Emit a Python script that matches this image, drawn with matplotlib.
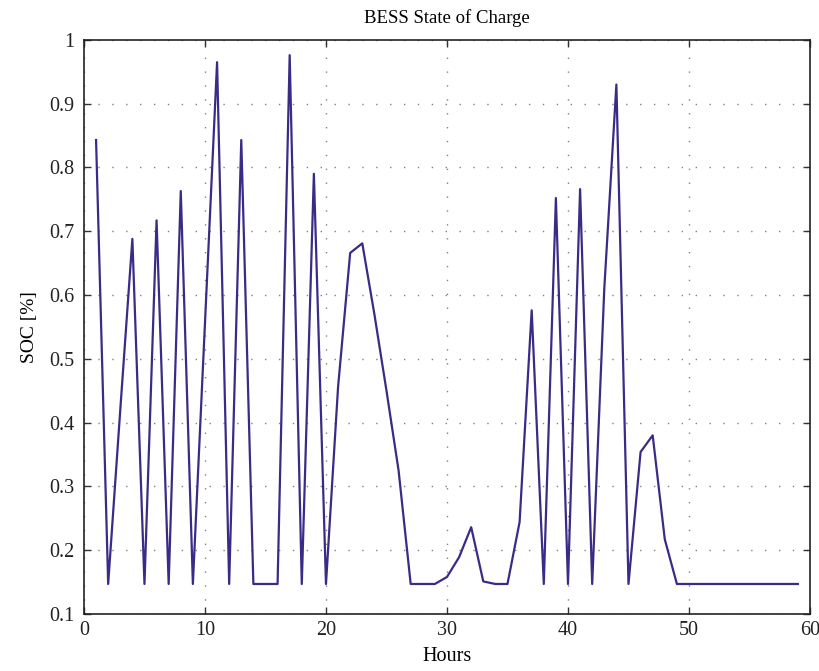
import matplotlib
matplotlib.use("Agg")
import matplotlib.pyplot as plt

# hourly battery state of charge
hours = list(range(1, 60))
soc = [
    0.843, 0.147, 0.42, 0.688, 0.147, 0.717, 0.147, 0.763, 0.147, 0.556,
    0.965, 0.147, 0.843, 0.147, 0.147, 0.147, 0.976, 0.147, 0.790, 0.147,
    0.456, 0.666, 0.681, 0.57, 0.45, 0.325, 0.147, 0.147, 0.147, 0.158,
    0.189, 0.236, 0.151, 0.147, 0.147, 0.244, 0.576, 0.147, 0.752, 0.147,
    0.766, 0.147, 0.61, 0.93, 0.147, 0.354, 0.38, 0.217, 0.147, 0.147,
    0.147, 0.147, 0.147, 0.147, 0.147, 0.147, 0.147, 0.147, 0.147,
]

x_ticks = [0, 10, 20, 30, 40, 50, 60]
y_ticks = [0.1, 0.2, 0.3, 0.4, 0.5, 0.6, 0.7, 0.8, 0.9, 1.0]
y_labels = ["0.1", "0.2", "0.3", "0.4", "0.5", "0.6", "0.7", "0.8", "0.9", "1"]

plt.rcParams["font.family"] = ["Liberation Serif", "DejaVu Serif"]
plt.rcParams["font.size"] = 14.5

fig = plt.figure(figsize=(8.2, 6.71), dpi=100)
ax = fig.add_axes([0.1024, 0.085, 0.8854, 0.8556])

ax.plot(hours, soc, color="#3b2b86", linewidth=1.6)

ax.set_xlim(0, 60)
ax.set_ylim(0.1, 1.0)
ax.set_xticks(x_ticks)
ax.set_yticks(y_ticks)
ax.set_yticklabels(y_labels)

ax.tick_params(direction="in", top=True, right=True, length=5,
               width=1, colors="#333333", labelcolor="#222222", pad=7)
ax.tick_params(axis="x", pad=5)
for spine in ax.spines.values():
    spine.set_linewidth(1.2)
    spine.set_color("#222222")

ax.grid(True, color="#808080", linestyle=(0, (1, 9)), linewidth=1.0)

ax.set_title("BESS State of Charge", fontsize=13.5, pad=12)
ax.set_xlabel("Hours", fontsize=14.5, labelpad=5)
ax.set_ylabel("SOC [%]", fontsize=14, labelpad=8)

fig.savefig("out.png", dpi=100)
